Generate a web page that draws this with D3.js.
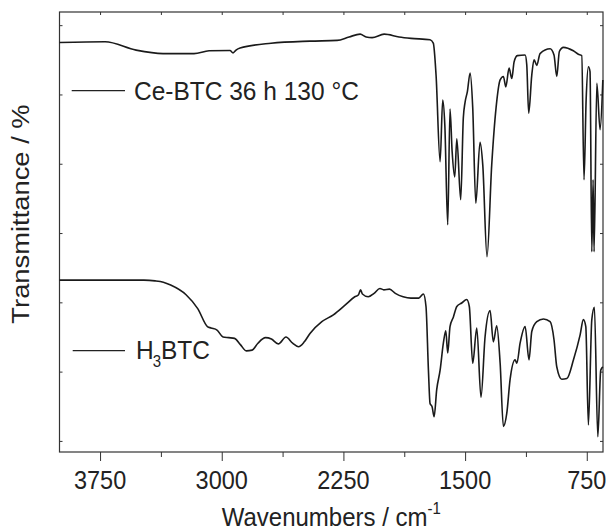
<!DOCTYPE html>
<html>
<head>
<meta charset="utf-8">
<script src="https://cdn.jsdelivr.net/npm/d3@7"></script>
<style>
  body { margin: 0; background: #fff; }
  text { font-family: "Liberation Sans", Arial, sans-serif; fill: #222; }
</style>
</head>
<body>
<svg id="chart" width="606" height="530"></svg>
<script>
// Ce-BTC 36 h 130 °C spectrum (wavenumber / cm-1, transmittance in arb. units)
var ceWavenumber = [4000, 3719, 3528, 3362, 3171, 3078, 2949, 2930, 2912, 2887, 2696, 2456, 2289, 2215, 2147, 2110, 2073, 1999, 1907, 1833,
    1716, 1696, 1679, 1654, 1638, 1625, 1607, 1593, 1580, 1564, 1551, 1527, 1511, 1500, 1486, 1469, 1453, 1434, 1408, 1391,
    1365, 1336, 1309, 1284, 1264, 1249, 1229, 1212, 1198, 1178, 1130, 1120, 1108, 1089, 1075, 1058, 1038, 976, 952, 935,
    919, 894, 833, 802, 781, 767, 754, 740, 730, 719, 711, 705, 688, 668, 651];
var ceTransmittance = [67.5, 67.6, 66.4, 65.9, 65.9, 66.3, 66.35, 66.0, 66.4, 66.7, 67.4, 67.7, 67.8, 68.3, 68.7, 68.3, 68.2, 68.7, 68.3, 68.1,
    67.9, 67.4, 62.8, 50.3, 59.2, 55.6, 41.2, 57.9, 51.8, 48.1, 53.6, 44.8, 56.6, 58.9, 60.4, 63.1, 58.1, 44.3, 53.1, 49.8,
    36.6, 49.8, 58.1, 62.1, 62.6, 61.1, 63.8, 62.3, 64.7, 65.6, 65.7, 64.3, 57.3, 62.8, 65.0, 64.2, 65.9, 66.6, 65.7, 62.6,
    66.2, 66.8, 66.3, 65.8, 65.6, 47.7, 59.2, 64.0, 63.3, 37.3, 47.7, 37.3, 61.6, 54.9, 62.1];

// H3BTC spectrum
var h3Wavenumber = [4000, 3480, 3411, 3360, 3315, 3220, 3148, 3088, 3066, 3029, 2992, 2957, 2921, 2885, 2849, 2813, 2777, 2730, 2694, 2651, 2604, 2563,
    2527, 2491, 2456, 2383, 2312, 2240, 2180, 2157, 2144, 2133, 2097, 2061, 2025, 2001, 1966, 1930, 1882, 1834, 1786, 1757,
    1741, 1726, 1716, 1703, 1691, 1675, 1654, 1634, 1619, 1607, 1593, 1572, 1551, 1521, 1490, 1474, 1453, 1428, 1402, 1377,
    1346, 1326, 1305, 1284, 1264, 1243, 1223, 1192, 1181, 1161, 1130, 1106, 1089, 1058, 1017, 976, 952, 935, 904, 873,
    832, 791, 771, 756, 740, 719, 703, 682, 664, 651];
var h3Transmittance = [33.2, 33.2, 33.1, 32.9, 32.5, 31.1, 29.1, 26.5, 26.3, 26.0, 25.0, 24.9, 24.8, 23.9, 23.0, 23.1, 24.1, 24.9, 24.7, 24.0, 25.0, 24.1,
    23.6, 24.3, 25.5, 27.2, 28.2, 29.6, 30.8, 31.1, 31.8, 31.2, 30.8, 31.3, 32.0, 31.8, 31.9, 31.3, 30.8, 30.6, 30.6, 31.2,
    29.4, 20.2, 15.4, 14.9, 13.5, 17.4, 20.2, 24.1, 25.9, 22.7, 26.5, 27.9, 29.4, 29.9, 30.4, 29.4, 21.2, 26.3, 16.3, 25.0,
    28.8, 24.3, 26.6, 21.2, 12.1, 14.0, 18.8, 21.7, 21.2, 24.1, 26.5, 21.7, 25.8, 27.2, 27.6, 27.2, 24.6, 20.7, 18.9, 19.0,
    21.7, 25.3, 27.5, 26.5, 12.3, 27.5, 29.3, 10.6, 20.2, 20.7];

var xMajorTicks = [3750, 3000, 2250, 1500, 750];
var xMinorTicks = [3375, 2625, 1875, 1125];
var yTicks = [10, 20, 30, 40, 50, 60, 70];

var margin = {left: 59.5, right: 3, top: 12, bottom: 78};
var W = 606, H = 530;
var stretch = 1.1;   // text in the picture is a bit tall

var svg = d3.select("#chart");

var x = d3.scaleLinear().domain([4000, 650]).range([margin.left, W - margin.right]);
var y = d3.scaleLinear().domain([8.4, 71.9]).range([H - margin.bottom, margin.top]);

var x0 = x.range()[0], x1 = x.range()[1], y0 = y.range()[0], y1 = y.range()[1];

// ticks
function noDomain(g) { g.select(".domain").remove(); g.selectAll("line").attr("stroke", "#333"); }

svg.append("g").attr("transform", "translate(0," + y0 + ")")
    .call(d3.axisBottom(x).tickValues(xMajorTicks).tickSize(9).tickFormat(""))
    .call(noDomain);
svg.append("g").attr("transform", "translate(0," + y0 + ")")
    .call(d3.axisBottom(x).tickValues(xMinorTicks).tickSize(5).tickFormat(""))
    .call(noDomain);
svg.append("g").attr("transform", "translate(0," + y1 + ")")
    .call(d3.axisTop(x).tickValues(xMajorTicks.concat(xMinorTicks)).tickSize(-3).tickFormat(""))
    .call(noDomain);
svg.append("g").attr("transform", "translate(" + x0 + ",0)")
    .call(d3.axisLeft(y).tickValues(yTicks).tickSize(-3).tickFormat(""))
    .call(noDomain);
svg.append("g").attr("transform", "translate(" + x1 + ",0)")
    .call(d3.axisRight(y).tickValues(yTicks).tickSize(-3).tickFormat(""))
    .call(noDomain);

// frame
svg.append("rect")
    .attr("x", x0).attr("y", y1)
    .attr("width", x1 - x0).attr("height", y0 - y1)
    .attr("fill", "none").attr("stroke", "#333").attr("stroke-width", 1.2);

// tick labels
svg.selectAll(".xlab").data(xMajorTicks).enter().append("text")
    .attr("class", "xlab")
    .attr("transform", function (d) { return "translate(" + x(d) + ",489) scale(1," + stretch + ")"; })
    .attr("text-anchor", "middle")
    .style("font-size", "23.5px")
    .text(function (d) { return d; });

// spectra
var line = d3.line()
    .x(function (d) { return x(d[0]); })
    .y(function (d) { return y(d[1]); })
    .curve(d3.curveMonotoneX);

var spectra = [
    d3.zip(ceWavenumber, ceTransmittance),
    d3.zip(h3Wavenumber, h3Transmittance)
];

svg.append("g").selectAll("path").data(spectra).enter().append("path")
    .attr("d", line)
    .attr("fill", "none")
    .attr("stroke", "#1a1a1a")
    .attr("stroke-width", 1.6)
    .attr("stroke-linejoin", "round");

// legends
svg.append("line").attr("x1", 71.7).attr("x2", 125).attr("y1", 90.7).attr("y2", 90.7)
    .attr("stroke", "#222").attr("stroke-width", 1.3);
svg.append("text")
    .attr("transform", "translate(134,100) scale(1,1.05)")
    .style("font-size", "24.5px")
    .text("Ce-BTC 36 h 130 °C");

svg.append("line").attr("x1", 72.7).attr("x2", 125).attr("y1", 350.7).attr("y2", 350.7)
    .attr("stroke", "#222").attr("stroke-width", 1.3);
var h3 = svg.append("text")
    .attr("transform", "translate(136,359.3) scale(1,1.05)")
    .style("font-size", "24.5px");
h3.append("tspan").text("H");
h3.append("tspan").attr("dx", -1).attr("dy", 7).style("font-size", "15px").text("3");
h3.append("tspan").attr("dy", -7).text("BTC");

// axis titles
var xt = svg.append("text")
    .attr("transform", "translate(" + ((x0 + x1) / 2) + ",526) scale(1," + stretch + ")")
    .attr("text-anchor", "middle")
    .style("font-size", "24px");
xt.append("tspan").text("Wavenumbers / cm");
xt.append("tspan").attr("dy", -11).style("font-size", "15px").text("-1");

svg.append("text")
    .attr("transform", "translate(29,214) scale(1,1.14) rotate(-90)")
    .attr("text-anchor", "middle")
    .style("font-size", "24px")
    .text("Transmittance / %");
</script>
</body>
</html>
